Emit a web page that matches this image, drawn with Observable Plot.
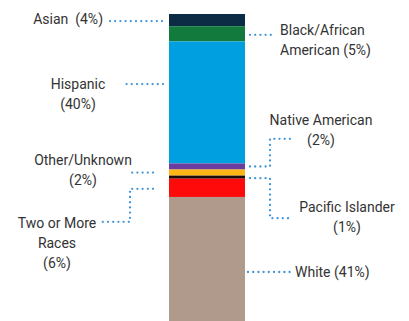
<!DOCTYPE html>
<html><head><meta charset="utf-8">
<script src="https://cdn.jsdelivr.net/npm/d3@7"></script>
<script src="https://cdn.jsdelivr.net/npm/@observablehq/plot@0.6"></script>
<style>
html,body{margin:0;padding:0;background:#fff;}
#chart svg text{font-family:Roboto,"Noto Sans",sans-serif;}
</style></head>
<body><div id="chart"></div>
<script>
// ---- data ----
const categories = ["Asian","Black/African American","Hispanic","Native American","Other/Unknown","Pacific Islander","Two or More Races","White"];
const shares = [4, 5, 40, 2, 2, 1, 6, 41];
const labelLines = [
  ["Asian  (4%)"],
  ["Black/African", "American (5%)"],
  ["Hispanic", "(40%)"],
  ["Native American", "(2%)"],
  ["Other/Unknown", "(2%)"],
  ["Pacific Islander", "(1%)"],
  ["Two or More", "Races", "(6%)"],
  ["White (41%)"]
];
const colors = ["#0c2b45","#127a3d","#009fe0","#6a3d9e","#fdb614","#1c0c08","#ff0a0a","#b09a8b"];

// ---- annotation layout (pixel offsets from bar edge / segment middle) ----
const layout = [
  {side:"left",  shift:1,    path:[[7,0],[59,0]],                   tx:66,  ty:-2,    anchor:"end"},
  {side:"right", shift:1,    path:[[5,0],[27,0]],                   tx:35,  ty:-5,    anchor:"start"},
  {side:"left",  shift:-18.4,path:[[6,0],[47,0]],                   tx:91,  ty:0,     anchor:"middle"},
  {side:"right", shift:0,    path:[[5,0],[25,0],[25,-27.7],[47,-27.7]], tx:76, ty:-46.7, anchor:"middle"},
  {side:"left",  shift:0,    path:[[16,0],[37,0]],                  tx:86,  ty:-12.2, anchor:"middle"},
  {side:"right", shift:1,    path:[[5,0],[25,0],[25,40],[47,40]],   tx:102, ty:28.7,  anchor:"middle"},
  {side:"left",  shift:1,    path:[[16,0],[39,0],[39,33],[67,33]],  tx:112, ty:34,    anchor:"middle"},
  {side:"right", shift:12.5, path:[[3,0],[45,0]],                   tx:50,  ty:0,     anchor:"start"}
];

let acc = 0;
const rows = categories.map((c, i) => {
  const r = {category: c, y1: acc, y2: acc + shares[i], group: "All students"};
  acc += shares[i];
  return r;
});
const total = acc;

const plot = Plot.plot({
  width: 409,
  height: 321,
  margin: 0,
  style: {background: "#fff", overflow: "visible"},
  x: {type: "band", domain: ["All students"], range: [169, 245], padding: 0, axis: null},
  y: {domain: [0, total], range: [14, 322], axis: null},
  color: {domain: categories, range: colors},
  marks: [
    Plot.barY(rows, {x: "group", y1: "y1", y2: "y2", fill: "category"})
  ]
});

document.getElementById("chart").appendChild(plot);

// ---- annotations using the plot's scales ----
const ys = plot.scale("y");
const xs = plot.scale("x");
const left = xs.apply("All students");
const right = left + xs.bandwidth;
const svg = d3.select(plot);
const g = svg.append("g");

rows.forEach((r, i) => {
  const L = layout[i];
  const yMid = ys.apply((r.y1 + r.y2) / 2) + L.shift;
  const sgn = L.side === "left" ? -1 : 1;
  const edge = L.side === "left" ? left : right;
  const pts = L.path.map(([dx, dy]) => [edge + sgn * dx, yMid + dy]);
  g.append("path")
    .attr("d", d3.line()(pts))
    .attr("fill", "none")
    .attr("stroke", "#3f93d8")
    .attr("stroke-width", 2.3)
    .attr("stroke-linecap", "round")
    .attr("stroke-dasharray", "0 5.2");
  const t = g.append("text")
    .attr("x", edge + sgn * L.tx)
    .attr("y", yMid + L.ty)
    .attr("text-anchor", L.anchor)
    .attr("fill", "#333333")
    .style("font-size", "14px")
    .style("white-space", "pre");
  labelLines[i].forEach((line, k) => {
    t.append("tspan")
      .attr("x", edge + sgn * L.tx)
      .attr("y", yMid + L.ty + k * 20)
      .attr("dy", "0.35em")
      .text(line);
  });
});
</script>
</body></html>
